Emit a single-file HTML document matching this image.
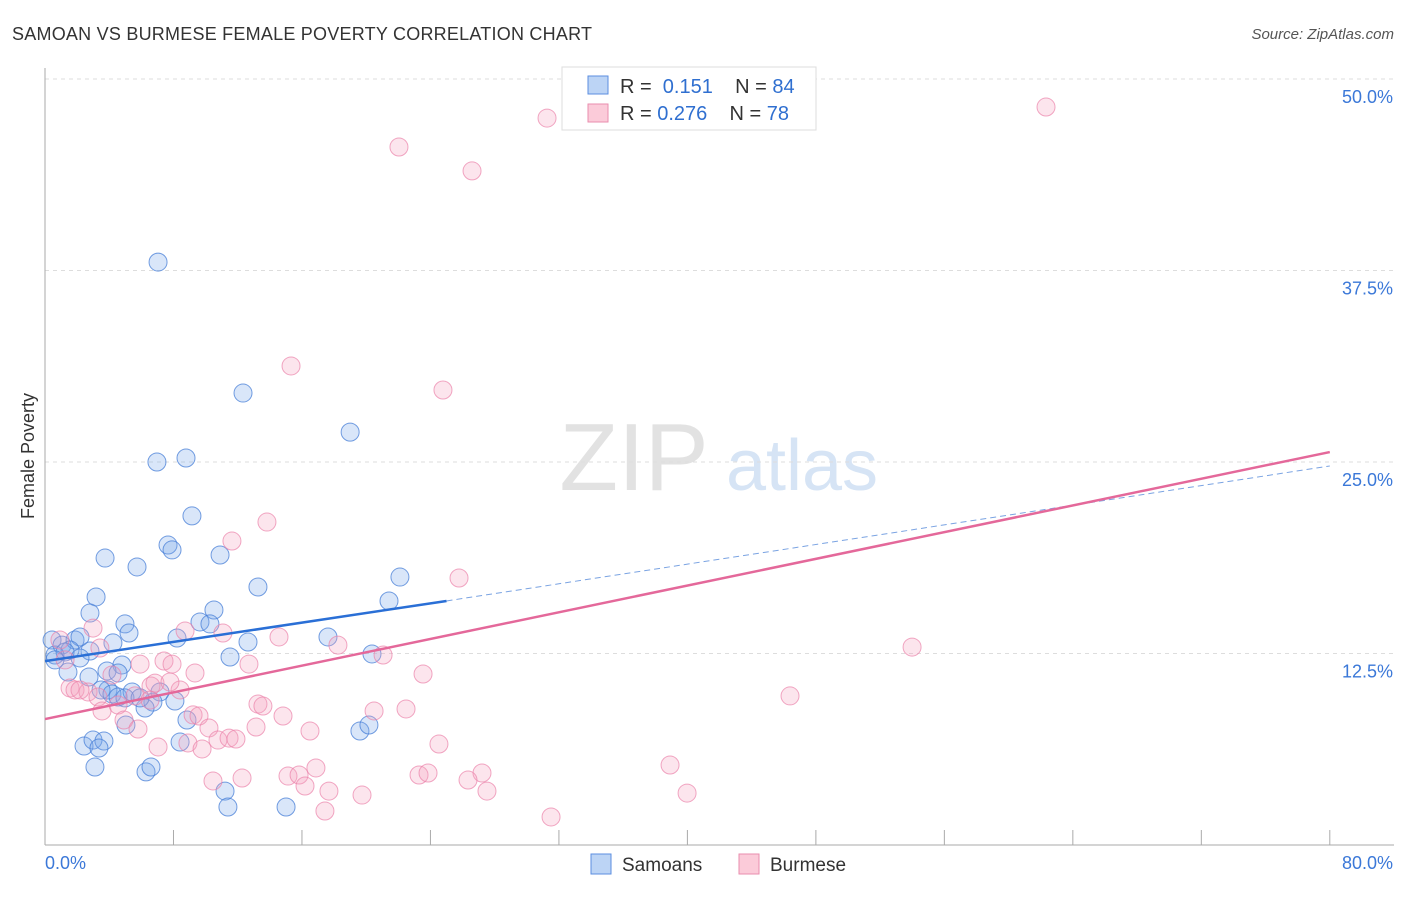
<!DOCTYPE html>
<html><head><meta charset="utf-8"><style>
body{margin:0;background:#fff;font-family:"Liberation Sans",sans-serif}
svg text{font-family:"Liberation Sans",sans-serif}
</style></head><body>
<svg id="c" width="1406" height="892" viewBox="0 0 1406 892">
<text x="12" y="40" font-size="18" fill="#333" textLength="580">SAMOAN VS BURMESE FEMALE POVERTY CORRELATION CHART</text>
<text x="1394" y="39" font-size="15" fill="#555" font-style="italic" text-anchor="end">Source: ZipAtlas.com</text>
<text x="34" y="456" font-size="18" fill="#333" transform="rotate(-90 34 456)" text-anchor="middle">Female Poverty</text>
<g><text x="634" y="490" font-size="96" fill="#e2e2e2" font-family="Liberation Serif" text-anchor="middle">ZIP</text><text x="802" y="490" font-size="72" fill="#d6e4f5" text-anchor="middle">atlas</text></g>
<g id="grid"></g><g id="axes"></g><g id="pts"></g><g id="lines"></g>
<g>
<rect x="562" y="67" width="254" height="63" fill="#fff" stroke="#ddd"/>
<rect x="588" y="76" width="20" height="18" fill="#bcd4f5" stroke="#5b8ee0"/>
<text x="620" y="93" font-size="20" fill="#333" xml:space="preserve">R =  <tspan fill="#2f6fd0">0.151</tspan>    N = <tspan fill="#2f6fd0">84</tspan></text>
<rect x="588" y="104" width="20" height="18" fill="#fbcbd9" stroke="#ea8eae"/>
<text x="620" y="120" font-size="20" fill="#333" xml:space="preserve">R = <tspan fill="#2f6fd0">0.276</tspan>    N = <tspan fill="#2f6fd0">78</tspan></text>
</g>
<g>
<rect x="591" y="854" width="20" height="20" fill="#bcd4f5" stroke="#5b8ee0"/>
<text x="622" y="871" font-size="19" fill="#333">Samoans</text>
<rect x="739" y="854" width="20" height="20" fill="#fbcbd9" stroke="#ea8eae"/>
<text x="770" y="871" font-size="19" fill="#333">Burmese</text>
</g>
</svg>
<script>
const blueX=[7.04,12.33,19.0,6.97,8.78,9.15,7.66,7.91,3.74,10.9,5.73,13.26,22.1,3.18,21.42,2.8,10.52,9.65,10.27,4.98,5.23,8.22,12.64,17.62,4.23,0.44,1.06,1.87,2.18,1.56,2.8,0.62,1.25,2.18,11.52,20.36,4.79,3.86,2.74,4.55,3.92,3.49,4.17,4.55,5.42,4.98,7.16,6.72,6.23,8.09,8.84,5.04,2.43,2.99,3.67,3.36,19.61,20.17,8.41,3.11,6.29,6.6,11.21,11.39,15.01,1.43,0.62,5.92];
const blueY=[38.05,29.5,26.95,25.0,25.26,21.48,19.58,19.26,18.73,18.93,18.15,16.84,17.49,16.19,15.93,15.14,15.34,14.56,14.43,14.43,13.84,13.51,13.25,13.58,13.19,13.38,13.05,13.38,13.58,12.73,12.66,12.4,12.6,12.21,12.27,12.47,11.75,11.36,10.97,11.23,10.12,10.12,9.86,9.66,9.99,9.6,9.99,9.33,8.94,9.4,8.16,7.83,6.46,6.85,6.79,6.33,7.44,7.83,6.72,5.09,4.77,5.09,3.52,2.48,2.48,11.29,12.08,9.6];
const pinkX=[31.26,22.04,26.59,62.33,15.32,24.78,13.82,11.64,25.78,2.99,8.72,11.08,14.57,18.24,21.05,53.99,7.41,7.91,12.7,9.34,23.54,6.6,6.85,8.41,1.56,1.87,2.68,3.3,5.6,46.39,3.55,4.55,4.92,13.26,13.57,9.22,9.59,20.49,22.48,14.82,5.79,10.21,13.14,16.5,10.77,11.46,11.89,8.9,7.04,9.78,24.53,38.92,16.87,15.13,15.82,23.29,23.85,27.21,10.46,12.27,26.34,16.19,17.68,27.52,39.98,19.74,17.43,31.51,0.93,1.25,2.18,3.42,5.92,4.17,6.54,7.78];
const pinkY=[47.45,45.56,44.0,48.17,31.27,29.7,21.08,19.84,17.43,14.16,13.97,13.84,13.58,13.05,12.4,12.92,12.01,11.81,11.81,11.23,11.16,10.38,10.57,10.12,10.25,10.12,9.99,9.66,9.73,9.73,8.75,9.14,8.16,9.2,9.07,8.49,8.42,8.75,8.88,8.42,7.57,7.64,7.7,7.44,6.85,6.98,6.92,6.66,6.4,6.27,6.59,5.22,5.03,4.5,4.57,4.57,4.7,4.7,4.18,4.37,4.24,3.85,3.52,3.52,3.39,3.26,2.22,1.83,13.38,12.08,10.12,12.86,11.81,11.1,9.46,10.64];
const yTicks=[12.5,25.0,37.5,50.0];
const xTickVals=[0,8,16,24,32,40,48,56,64,72,80];
const blueTrend=[12.0,15.93,24.74];
const pinkTrend=[8.22,25.65];
const sx=v=>45+v*16.06, sy=v=>845-v*15.32;
const NS='http://www.w3.org/2000/svg';
function mk(t,a,p){const e=document.createElementNS(NS,t);for(const k in a)e.setAttribute(k,a[k]);p.appendChild(e);return e;}
const grid=document.getElementById('grid'),axes=document.getElementById('axes'),pts=document.getElementById('pts'),lines=document.getElementById('lines');
yTicks.forEach(v=>{
 const l=mk('line',{x1:45,x2:1394,y1:sy(v),y2:sy(v),stroke:'#ddd','stroke-dasharray':'4,4'},grid);
 
 
 const t=mk('text',{x:1393,y:sy(v)+24,'font-size':18,fill:'#3b78d8','text-anchor':'end'},axes);
 t.textContent=v.toFixed(1)+'%';
 
 
});
const ya=mk('line',{x1:45,x2:45,y1:68,y2:845,stroke:'#aaa'},axes);


const xa=mk('line',{x1:45,x2:1394,y1:845,y2:845,stroke:'#aaa'},axes);


xTickVals.forEach(v=>{const l=mk('line',{x1:sx(v),x2:sx(v),y1:830,y2:845,stroke:'#aaa'},axes);
 
 });
const t0=mk('text',{x:45,y:869,'font-size':18,fill:'#3b78d8'},axes);t0.textContent=xTickVals[0].toFixed(1)+'%';


const t1=mk('text',{x:1393,y:869,'font-size':18,fill:'#3b78d8','text-anchor':'end'},axes);t1.textContent=xTickVals[xTickVals.length-1].toFixed(1)+'%';


function dots(X,Y,fill,stroke,name){X.forEach((x,i)=>{const big=x<0.3&&Y[i]>15;
 const c=mk('circle',{cx:sx(x),cy:sy(Y[i]),r:big?18:9,fill:fill,stroke:stroke,'stroke-width':1},pts);
 
 });}
dots(blueX,blueY,'rgba(120,165,235,0.28)','rgba(70,125,215,0.75)','samoan-point');
dots(pinkX,pinkY,'rgba(245,160,190,0.28)','rgba(235,130,170,0.7)','burmese-point');
const b1=mk('line',{x1:sx(0),y1:sy(blueTrend[0]),x2:sx(25),y2:sy(blueTrend[1]),stroke:'#2a6fd6','stroke-width':2.5},lines);


const b2=mk('line',{x1:sx(25),y1:sy(blueTrend[1]),x2:sx(80),y2:sy(blueTrend[2]),stroke:'#7aa3e2','stroke-width':1,'stroke-dasharray':'6,4'},lines);


const p1=mk('line',{x1:sx(0),y1:sy(pinkTrend[0]),x2:sx(80),y2:sy(pinkTrend[1]),stroke:'#e4689a','stroke-width':2.5},lines);


</script>
</body></html>
